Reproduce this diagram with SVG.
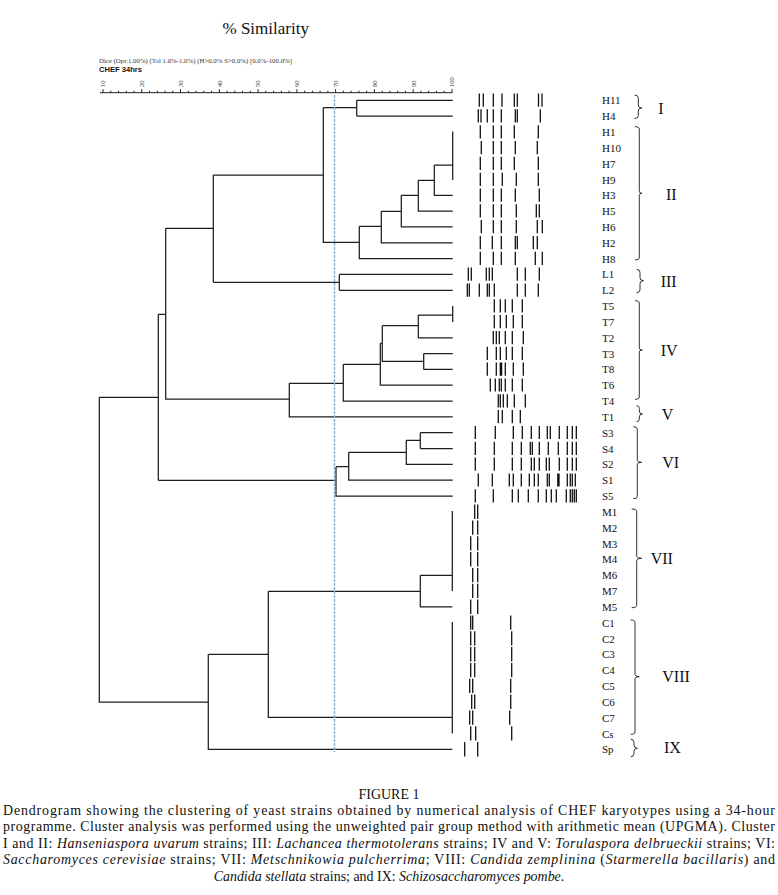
<svg xmlns="http://www.w3.org/2000/svg" width="778" height="895" viewBox="0 0 778 895">
<style>
.br{fill:none;stroke:#1e1e1e;stroke-width:1.25}
.bd{fill:none;stroke:#111;stroke-width:1.3}
.lb{font-family:"Liberation Serif","Times New Roman",serif;font-size:11px;fill:#111}
.rn{font-family:"Liberation Serif","Times New Roman",serif;font-size:16px;fill:#111}
.bc{fill:none;stroke:#333;stroke-width:1}
.ax{fill:none;stroke:#222;stroke-width:1}
.tk{font-family:"Liberation Serif","Times New Roman",serif;font-size:6.5px;fill:#333}
.ttl{font-family:"Liberation Serif","Times New Roman",serif;font-size:17px;fill:#111}
.cap{font-family:"Liberation Serif","Times New Roman",serif;font-size:15.5px;fill:#111}
</style>
<rect width="778" height="895" fill="#fff"/>
<text class="ttl" x="222.5" y="34">% Similarity</text>
<text x="99" y="62.5" textLength="193" lengthAdjust="spacingAndGlyphs" style="font-family:'Liberation Serif','Times New Roman',serif;font-size:6px;fill:#333">Dice (Opt:1.00%) (Tol 1.0%-1.0%) (H&gt;0.0% S&gt;0.0%) [0.0%-100.0%]</text>
<text x="99" y="72.3" style="font-family:'Liberation Sans',Arial,sans-serif;font-size:7.6px;font-weight:bold;fill:#111">CHEF 34hrs</text>
<g id="axis">
<path class="ax" d="M100,92.7H452.5"/>
<path class="ax" d="M103,92.7v-3.5M141.8,92.7v-3.5M180.5,92.7v-3.5M219.3,92.7v-3.5M258.1,92.7v-3.5M296.9,92.7v-3.5M335.6,92.7v-3.5M374.4,92.7v-3.5M413.2,92.7v-3.5M452,92.7v-3.5M110.8,92.7v-2M118.5,92.7v-2M126.3,92.7v-2M134,92.7v-2M149.5,92.7v-2M157.3,92.7v-2M165,92.7v-2M172.8,92.7v-2M188.3,92.7v-2M196.1,92.7v-2M203.8,92.7v-2M211.6,92.7v-2M227.1,92.7v-2M234.8,92.7v-2M242.6,92.7v-2M250.3,92.7v-2M265.8,92.7v-2M273.6,92.7v-2M281.4,92.7v-2M289.1,92.7v-2M304.6,92.7v-2M312.4,92.7v-2M320.1,92.7v-2M327.9,92.7v-2M343.4,92.7v-2M351.1,92.7v-2M358.9,92.7v-2M366.7,92.7v-2M382.2,92.7v-2M389.9,92.7v-2M397.7,92.7v-2M405.4,92.7v-2M420.9,92.7v-2M428.7,92.7v-2M436.4,92.7v-2M444.2,92.7v-2"/>
<text class="tk" transform="translate(105.3,87) rotate(-90)">10</text>
<text class="tk" transform="translate(144.1,87) rotate(-90)">20</text>
<text class="tk" transform="translate(182.8,87) rotate(-90)">30</text>
<text class="tk" transform="translate(221.6,87) rotate(-90)">40</text>
<text class="tk" transform="translate(260.4,87) rotate(-90)">50</text>
<text class="tk" transform="translate(299.2,87) rotate(-90)">60</text>
<text class="tk" transform="translate(337.9,87) rotate(-90)">70</text>
<text class="tk" transform="translate(376.7,87) rotate(-90)">80</text>
<text class="tk" transform="translate(415.5,87) rotate(-90)">90</text>
<text class="tk" transform="translate(454.3,87) rotate(-90)">100</text>
</g>
<g id="connectors">
<path class="br" d="M356.7,100.3H452.7M356.7,116.1H452.7M356.7,100.3V116.1M323.3,107.7H356.7"/>
<path class="br" d="M452.7,131.5V180M434.3,165H452.7M434.3,165V195.3H452.7M418.3,180.3H434.3M418.3,180.3V211.1H452.7M401.3,195.3H418.3M401.3,195.3V226.9H452.7M381.3,211.3H401.3M381.3,211.3V242.8H452.7M359.3,226.3H381.3M359.3,226.3V258.6H452.7"/>
<path class="br" d="M323.3,107.7V242.3H359.3M213.3,175H323.3"/>
<path class="br" d="M339.3,274.4H452.7M339.3,290.3H452.7M339.3,274.4V290.3M213.3,282.3H339.3M213.3,175V282.3M165.7,228.3H213.3M165.7,228.3V399H289.3"/>
<path class="br" d="M452.7,306.1V321.9M418.3,315H452.7M418.3,315V337.8H452.7M382.3,325.7H418.3M382.3,325.7V361.3H423.7M423.7,353.6V369.4M423.7,353.6H452.7M423.7,369.4H452.7M380.3,343.3H382.3M380.3,343.3V385.2H452.7M343.3,364.3H380.3M343.3,364.3V401.1H452.7M289.3,383.3H343.3M289.3,383.3V416.9H452.7"/>
<path class="br" d="M158.3,314.3H165.7M158.3,314.3V480.3"/>
<path class="br" d="M420.3,432.7H452.7M420.3,448.6H452.7M420.3,432.7V448.6M406.3,440.3H420.3M406.3,440.3V464.4H452.7M348.7,452.3H406.3M348.7,452.3V480.2H452.7M336,466.7H348.7M336,466.7V496.1H452.7M158.3,480.3H336"/>
<path class="br" d="M99.3,397.3H158.3M99.3,397.3V702H208.3"/>
<path class="br" d="M452.3,511V591M420.3,575.3H452.3M420.3,575.3V606.9H452.3M268.3,591.3H420.3M268.3,591.3V717.3H452.3M452.3,622V733.5M208.3,654.3H268.3M208.3,654.3V749.3H452.3"/>
<path d="M334.5,95V752" fill="none" stroke="#86acd6" stroke-width="1.4" stroke-dasharray="3,1"/>
</g>
<g id="H11" transform="translate(0,100.3)"><path class="bd" d="M479.3,-6.8v13.2M483.3,-6.8v13.2M493.3,-6.8v13.2M502,-6.8v13.2M514.3,-6.8v13.2M517.3,-6.8v13.2M538.5,-6.8v13.2M542,-6.8v13.2"/><text class="lb" x="602" y="4">H11</text></g>
<g id="H4" transform="translate(0,116.1)"><path class="bd" d="M478.3,-6.8v13.2M481,-6.8v13.2M487.3,-6.8v13.2M493.3,-6.8v13.2M501.3,-6.8v13.2M515.3,-6.8v13.2M517.3,-6.8v13.2M540.3,-6.8v13.2"/><text class="lb" x="602" y="4">H4</text></g>
<g id="H1" transform="translate(0,132)"><path class="bd" d="M480.3,-6.8v13.2M493.3,-6.8v13.2M501.3,-6.8v13.2M514.3,-6.8v13.2M538.3,-6.8v13.2"/><text class="lb" x="602" y="4">H1</text></g>
<g id="H10" transform="translate(0,147.8)"><path class="bd" d="M481.3,-6.8v13.2M493.3,-6.8v13.2M501.3,-6.8v13.2M515.3,-6.8v13.2M537.3,-6.8v13.2"/><text class="lb" x="602" y="4">H10</text></g>
<g id="H7" transform="translate(0,163.6)"><path class="bd" d="M480.3,-6.8v13.2M493.3,-6.8v13.2M501.3,-6.8v13.2M514.3,-6.8v13.2M538.3,-6.8v13.2"/><text class="lb" x="602" y="4">H7</text></g>
<g id="H9" transform="translate(0,179.5)"><path class="bd" d="M480.3,-6.8v13.2M493.3,-6.8v13.2M502.3,-6.8v13.2M516.3,-6.8v13.2M538.3,-6.8v13.2"/><text class="lb" x="602" y="4">H9</text></g>
<g id="H3" transform="translate(0,195.3)"><path class="bd" d="M480.3,-6.8v13.2M493.3,-6.8v13.2M501.3,-6.8v13.2M515.3,-6.8v13.2M539.3,-6.8v13.2"/><text class="lb" x="602" y="4">H3</text></g>
<g id="H5" transform="translate(0,211.1)"><path class="bd" d="M480.3,-6.8v13.2M493.3,-6.8v13.2M501.3,-6.8v13.2M516.3,-6.8v13.2M536.3,-6.8v13.2M539.3,-6.8v13.2"/><text class="lb" x="602" y="4">H5</text></g>
<g id="H6" transform="translate(0,226.9)"><path class="bd" d="M481.3,-6.8v13.2M493.3,-6.8v13.2M501.3,-6.8v13.2M516.3,-6.8v13.2M537.3,-6.8v13.2M542.3,-6.8v13.2"/><text class="lb" x="602" y="4">H6</text></g>
<g id="H2" transform="translate(0,242.8)"><path class="bd" d="M480.3,-6.8v13.2M492.3,-6.8v13.2M501.3,-6.8v13.2M515.3,-6.8v13.2M517.3,-6.8v13.2M533.3,-6.8v13.2M537.3,-6.8v13.2"/><text class="lb" x="602" y="4">H2</text></g>
<g id="H8" transform="translate(0,258.6)"><path class="bd" d="M480.3,-6.8v13.2M493.3,-6.8v13.2M501.3,-6.8v13.2M515.3,-6.8v13.2M535.3,-6.8v13.2M542.3,-6.8v13.2"/><text class="lb" x="602" y="4">H8</text></g>
<g id="L1" transform="translate(0,274.4)"><path class="bd" d="M468.3,-6.8v13.2M471.3,-6.8v13.2M486.3,-6.8v13.2M489.3,-6.8v13.2M492.3,-6.8v13.2M517.3,-6.8v13.2M525.3,-6.8v13.2M539.3,-6.8v13.2"/><text class="lb" x="602" y="4">L1</text></g>
<g id="L2" transform="translate(0,290.3)"><path class="bd" d="M467.3,-6.8v13.2M469.3,-6.8v13.2M479.3,-6.8v13.2M487.3,-6.8v13.2M489.3,-6.8v13.2M494.3,-6.8v13.2M517.3,-6.8v13.2M525.3,-6.8v13.2M538.3,-6.8v13.2"/><text class="lb" x="602" y="4">L2</text></g>
<g id="T5" transform="translate(0,306.1)"><path class="bd" d="M494.3,-6.8v13.2M500.3,-6.8v13.2M505.3,-6.8v13.2M512.3,-6.8v13.2M522.3,-6.8v13.2"/><text class="lb" x="602" y="4">T5</text></g>
<g id="T7" transform="translate(0,321.9)"><path class="bd" d="M494.3,-6.8v13.2M500.3,-6.8v13.2M506.3,-6.8v13.2M513.3,-6.8v13.2M522.3,-6.8v13.2"/><text class="lb" x="602" y="4">T7</text></g>
<g id="T2" transform="translate(0,337.8)"><path class="bd" d="M493.3,-6.8v13.2M496.3,-6.8v13.2M499.3,-6.8v13.2M505.3,-6.8v13.2M512.3,-6.8v13.2M523.3,-6.8v13.2"/><text class="lb" x="602" y="4">T2</text></g>
<g id="T3" transform="translate(0,353.6)"><path class="bd" d="M487.3,-6.8v13.2M496.3,-6.8v13.2M500.3,-6.8v13.2M506.3,-6.8v13.2M512.3,-6.8v13.2M522.3,-6.8v13.2"/><text class="lb" x="602" y="4">T3</text></g>
<g id="T8" transform="translate(0,369.4)"><path class="bd" d="M487.3,-6.8v13.2M496.3,-6.8v13.2M500.3,-6.8v13.2M501.6,-6.8v13.2M505.3,-6.8v13.2M513.3,-6.8v13.2M523.3,-6.8v13.2"/><text class="lb" x="602" y="4">T8</text></g>
<g id="T6" transform="translate(0,385.2)"><path class="bd" d="M490.3,-6.8v13.2M495.3,-6.8v13.2M499.3,-6.8v13.2M501.3,-6.8v13.2M505.3,-6.8v13.2M512.3,-6.8v13.2M522.3,-6.8v13.2"/><text class="lb" x="602" y="4">T6</text></g>
<g id="T4" transform="translate(0,401.1)"><path class="bd" d="M498.3,-6.8v13.2M500.3,-6.8v13.2M503.3,-6.8v13.2M507.3,-6.8v13.2M514.3,-6.8v13.2M525.3,-6.8v13.2"/><text class="lb" x="602" y="4">T4</text></g>
<g id="T1" transform="translate(0,416.9)"><path class="bd" d="M498.3,-6.8v13.2M502.3,-6.8v13.2M512.3,-6.8v13.2M520.3,-6.8v13.2"/><text class="lb" x="602" y="4">T1</text></g>
<g id="S3" transform="translate(0,432.7)"><path class="bd" d="M475.3,-6.8v13.2M495.3,-6.8v13.2M513.3,-6.8v13.2M522.3,-6.8v13.2M531.3,-6.8v13.2M539.3,-6.8v13.2M547.3,-6.8v13.2M550.3,-6.8v13.2M559.3,-6.8v13.2M567.3,-6.8v13.2M572.3,-6.8v13.2M576.3,-6.8v13.2"/><text class="lb" x="602" y="4">S3</text></g>
<g id="S4" transform="translate(0,448.6)"><path class="bd" d="M475.3,-6.8v13.2M494.3,-6.8v13.2M512.3,-6.8v13.2M521.3,-6.8v13.2M530.3,-6.8v13.2M532.3,-6.8v13.2M539.3,-6.8v13.2M548.3,-6.8v13.2M558.3,-6.8v13.2M567.3,-6.8v13.2M572.3,-6.8v13.2M576.3,-6.8v13.2"/><text class="lb" x="602" y="4">S4</text></g>
<g id="S2" transform="translate(0,464.4)"><path class="bd" d="M475.3,-6.8v13.2M494.3,-6.8v13.2M512.3,-6.8v13.2M521.3,-6.8v13.2M531.3,-6.8v13.2M534.3,-6.8v13.2M539.3,-6.8v13.2M546.3,-6.8v13.2M549.3,-6.8v13.2M559.3,-6.8v13.2M567.3,-6.8v13.2M572.3,-6.8v13.2M576.3,-6.8v13.2"/><text class="lb" x="602" y="4">S2</text></g>
<g id="S1" transform="translate(0,480.2)"><path class="bd" d="M478.3,-6.8v13.2M492.3,-6.8v13.2M509.3,-6.8v13.2M513.3,-6.8v13.2M521.3,-6.8v13.2M529.3,-6.8v13.2M534.3,-6.8v13.2M538.3,-6.8v13.2M547.3,-6.8v13.2M549.3,-6.8v13.2M557.8,-6.8v13.2M559,-6.8v13.2M567.3,-6.8v13.2M570.3,-6.8v13.2M572.3,-6.8v13.2M575.3,-6.8v13.2"/><text class="lb" x="602" y="4">S1</text></g>
<g id="S5" transform="translate(0,496.1)"><path class="bd" d="M475.3,-6.8v13.2M493.3,-6.8v13.2M512.3,-6.8v13.2M518.3,-6.8v13.2M528.3,-6.8v13.2M538.3,-6.8v13.2M546.3,-6.8v13.2M551.3,-6.8v13.2M556.3,-6.8v13.2M566.3,-6.8v13.2M570.3,-6.8v13.2M572.3,-6.8v13.2M574.3,-6.8v13.2M576.3,-6.8v13.2"/><text class="lb" x="602" y="4">S5</text></g>
<g id="M1" transform="translate(0,511.9)"><path class="bd" d="M474.7,-7.3v14.4M477.7,-7.3v14.4"/><text class="lb" x="602" y="4">M1</text></g>
<g id="M2" transform="translate(0,527.7)"><path class="bd" d="M472.7,-7.3v14.4M477.7,-7.3v14.4"/><text class="lb" x="602" y="4">M2</text></g>
<g id="M3" transform="translate(0,543.5)"><path class="bd" d="M470.7,-7.3v14.4M477.7,-7.3v14.4"/><text class="lb" x="602" y="4">M3</text></g>
<g id="M4" transform="translate(0,559.4)"><path class="bd" d="M470.7,-7.3v14.4M477.7,-7.3v14.4"/><text class="lb" x="602" y="4">M4</text></g>
<g id="M6" transform="translate(0,575.2)"><path class="bd" d="M472.7,-7.3v14.4M477.7,-7.3v14.4"/><text class="lb" x="602" y="4">M6</text></g>
<g id="M7" transform="translate(0,591)"><path class="bd" d="M472.7,-7.3v14.4M477.7,-7.3v14.4"/><text class="lb" x="602" y="4">M7</text></g>
<g id="M5" transform="translate(0,606.9)"><path class="bd" d="M470.7,-7.3v14.4M477.7,-7.3v14.4"/><text class="lb" x="602" y="4">M5</text></g>
<g id="C1" transform="translate(0,622.7)"><path class="bd" d="M470.7,-7.3v14.4M472.7,-7.3v14.4M510.7,-7.3v14.4"/><text class="lb" x="602" y="4">C1</text></g>
<g id="C2" transform="translate(0,638.5)"><path class="bd" d="M470.7,-7.3v14.4M474.7,-7.3v14.4M511.7,-7.3v14.4"/><text class="lb" x="602" y="4">C2</text></g>
<g id="C3" transform="translate(0,654.4)"><path class="bd" d="M470.7,-7.3v14.4M474.7,-7.3v14.4M511.7,-7.3v14.4"/><text class="lb" x="602" y="4">C3</text></g>
<g id="C4" transform="translate(0,670.2)"><path class="bd" d="M470.7,-7.3v14.4M474.7,-7.3v14.4M511.7,-7.3v14.4"/><text class="lb" x="602" y="4">C4</text></g>
<g id="C5" transform="translate(0,686)"><path class="bd" d="M469.7,-7.3v14.4M472.7,-7.3v14.4M510.7,-7.3v14.4"/><text class="lb" x="602" y="4">C5</text></g>
<g id="C6" transform="translate(0,701.8)"><path class="bd" d="M471.7,-7.3v14.4M474.7,-7.3v14.4M510.7,-7.3v14.4"/><text class="lb" x="602" y="4">C6</text></g>
<g id="C7" transform="translate(0,717.7)"><path class="bd" d="M469.7,-7.3v14.4M472.7,-7.3v14.4M509.7,-7.3v14.4"/><text class="lb" x="602" y="4">C7</text></g>
<g id="Cs" transform="translate(0,733.5)"><path class="bd" d="M470.7,-7.3v14.4M475.7,-7.3v14.4M511.7,-7.3v14.4"/><text class="lb" x="602" y="4">Cs</text></g>
<g id="Sp" transform="translate(0,749.3)"><path class="bd" d="M464.7,-7.3v14.4M477.7,-7.3v14.4"/><text class="lb" x="602" y="4">Sp</text></g>
<g id="cluster-I"><path class="bc" d="M634.5,95Q638.3,95 638.3,98V105Q638.3,108 641.8,108Q638.3,108 638.3,111V115.5Q638.3,118.5 634.5,118.5"/><text class="rn" x="658.3" y="113.5">I</text></g>
<g id="cluster-II"><path class="bc" d="M635,126.7Q639.3,126.7 639.3,129V191.3Q639.3,193.3 642,193.3Q639.3,193.3 639.3,195.3V258Q639.3,260 635,260"/><text class="rn" x="666" y="199.5">II</text></g>
<g id="cluster-III"><path class="bc" d="M636.5,269.3Q640,269.3 640,272.3V277.7Q640,280.7 643.5,280.7Q640,280.7 640,283.7V289.7Q640,292.7 636.5,292.7"/><text class="rn" x="660.7" y="287">III</text></g>
<g id="cluster-IV"><path class="bc" d="M635,300.7Q639.3,300.7 639.3,303V348Q639.3,350 642.3,350Q639.3,350 639.3,352V397Q639.3,399.3 635,399.3"/><text class="rn" x="660.7" y="355.7">IV</text></g>
<g id="cluster-V"><path class="bc" d="M636.5,405.7Q639.3,405.7 639.3,408.5V411Q639.3,414 642.5,414Q639.3,414 639.3,417V419Q639.3,421.7 636.5,421.7"/><text class="rn" x="661.7" y="420">V</text></g>
<g id="cluster-VI"><path class="bc" d="M633.3,426.7Q637.3,426.7 637.3,429V460.3Q637.3,462.3 641.7,462.3Q637.3,462.3 637.3,464.3V496.5Q637.3,498.7 633.3,498.7"/><text class="rn" x="662.3" y="468.3">VI</text></g>
<g id="cluster-VII"><path class="bc" d="M631.7,509Q636.7,509 636.7,511.3V556.3Q636.7,558.3 641.7,558.3Q636.7,558.3 636.7,560.3V605.5Q636.7,607.7 631.7,607.7"/><text class="rn" x="650.7" y="563.5">VII</text></g>
<g id="cluster-VIII"><path class="bc" d="M630.7,620Q635,620 635,622.3V674.7Q635,676.7 639.3,676.7Q635,676.7 635,678.7V732Q635,734.3 630.7,734.3"/><text class="rn" x="662.3" y="681.7">VIII</text></g>
<g id="cluster-IX"><path class="bc" d="M630.7,739.3Q634,739.3 634,742.3V745.3Q634,748.3 637.5,748.3Q634,748.3 634,751.3V753.7Q634,756.7 630.7,756.7"/><text class="rn" x="664" y="753.3">IX</text></g>
<g id="caption" transform="scale(0.9,1)">
<text class="cap" x="432.2" y="799.5" text-anchor="middle">FIGURE 1</text>
<text class="cap" x="3.3" y="815" textLength="857.8" lengthAdjust="spacing">Dendrogram showing the clustering of yeast strains obtained by numerical analysis of CHEF karyotypes using a 34-hour</text>
<text class="cap" x="3.3" y="831.5" textLength="857.8" lengthAdjust="spacing">programme. Cluster analysis was performed using the unweighted pair group method with arithmetic mean (UPGMA). Cluster</text>
<text class="cap" x="3.3" y="848" textLength="857.8" lengthAdjust="spacing">I and II: <tspan font-style="italic">Hanseniaspora uvarum</tspan> strains; III: <tspan font-style="italic">Lachancea thermotolerans</tspan> strains; IV and V: <tspan font-style="italic">Torulaspora delbrueckii</tspan> strains; VI:</text>
<text class="cap" x="3.3" y="864.5" textLength="857.8" lengthAdjust="spacing"><tspan font-style="italic">Saccharomyces cerevisiae</tspan> strains; VII: <tspan font-style="italic">Metschnikowia pulcherrima</tspan>; VIII: <tspan font-style="italic">Candida zemplinina</tspan> (<tspan font-style="italic">Starmerella bacillaris</tspan>) and</text>
<text class="cap" x="432.2" y="881" text-anchor="middle"><tspan font-style="italic">Candida stellata</tspan> strains; and IX: <tspan font-style="italic">Schizosaccharomyces pombe</tspan>.</text>
</g>
</svg>
